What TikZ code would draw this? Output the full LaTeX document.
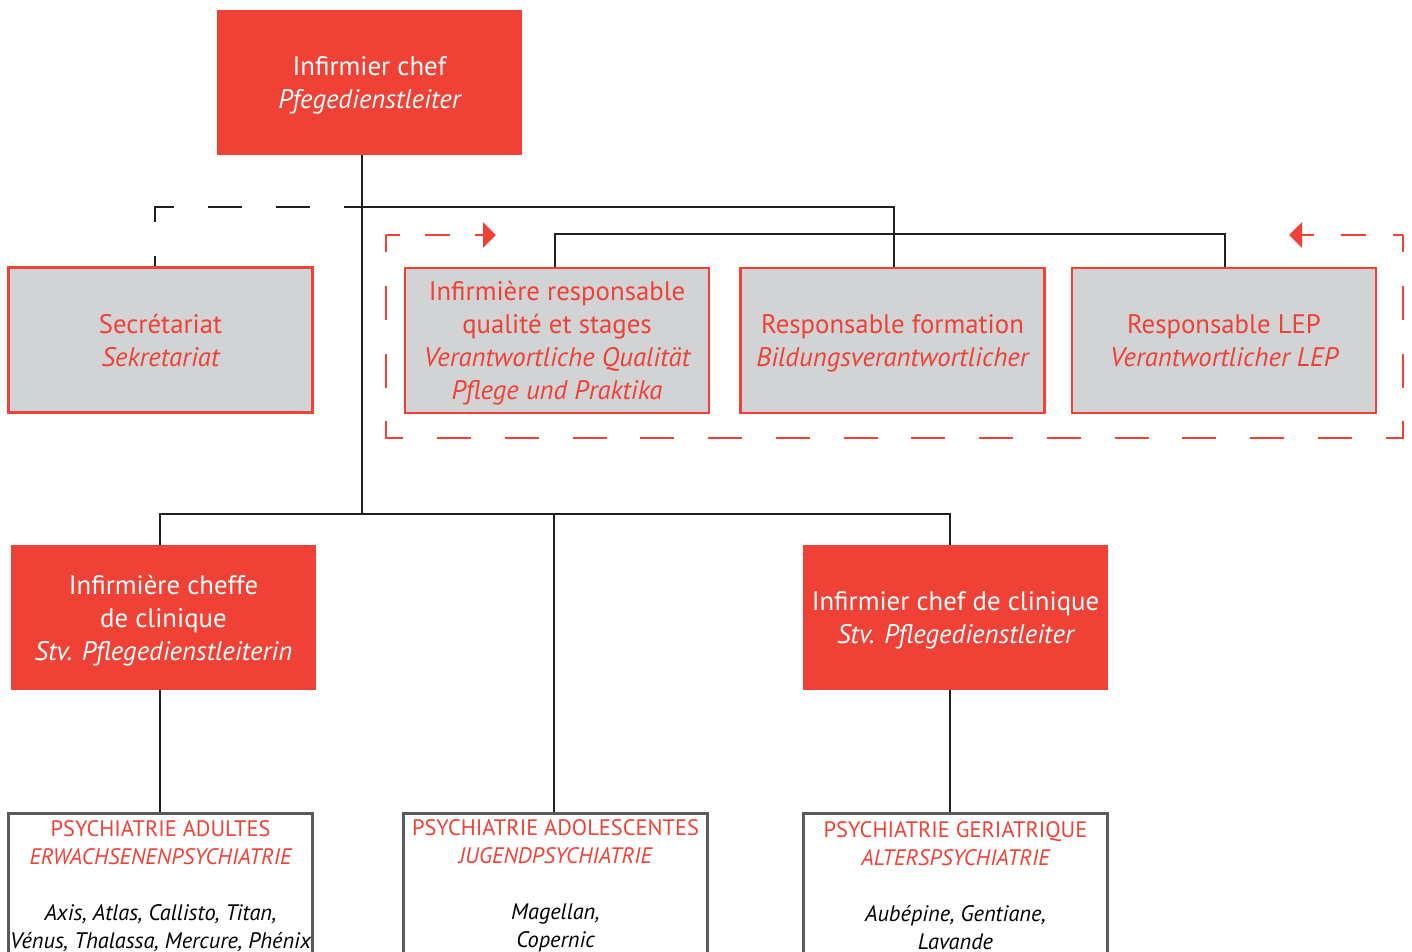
\documentclass[tikz,border=0pt]{standalone}
\usepackage{fontspec}
\setmainfont{PT Sans}
\usetikzlibrary{arrows.meta}

\definecolor{chefred}{HTML}{EF4136}
\definecolor{boxgrey}{HTML}{D1D3D4}
\definecolor{deptgrey}{HTML}{58595B}
\definecolor{linkblack}{HTML}{231F20}

\newcommand\orgbig{\fontsize{26.8}{33}\selectfont}
\newcommand\orgsmall{\fontsize{22.4}{28}\selectfont}

\tikzset{
  redbox/.style={rectangle, fill=chefred, text=white, inner sep=0pt,
    minimum width=305pt, minimum height=145pt, align=center, font=\orgbig,
    text depth=-9pt},
  greybox/.style={rectangle, draw=chefred, line width=2.5pt, fill=boxgrey,
    text=chefred, inner sep=0pt, minimum width=304pt, minimum height=145pt,
    align=center, font=\orgbig, text depth=-8pt},
  deptbox/.style={rectangle, draw=deptgrey, line width=2.5pt, fill=white,
    inner sep=0pt, minimum width=304pt, minimum height=220pt, anchor=north},
  depttext/.style={align=center, font=\orgsmall, inner sep=0pt},
  link/.style={draw=linkblack, line width=2.5pt},
  dashlink/.style={link, dash pattern=on 34pt off 34pt, dash phase=16pt},
  framedash/.style={draw=chefred, line width=2.5pt,
    dash pattern=on 34pt off 33.76pt, dash phase=17pt},
  frametip/.style={-{Triangle[length=13pt,width=25pt]}}
}

\begin{document}
\begin{tikzpicture}[x=1pt,y=-1pt]
  \path[use as bounding box, clip] (0,0) rectangle (1412,952);

  \coordinate (hub) at (362,207);
  \coordinate (staffbar) at (894,234);
  \coordinate (bus) at (362,514);

  \draw[link] (362,155) -- (bus);
  \draw[link] (hub) -| (staffbar) -- (894,267);
  \draw[dashlink] (hub) -| (155,267);
  \draw[link] (555,267) |- (staffbar) -| (1225,267);
  \draw[link] (160,545) |- (bus) -| (950,545);
  \draw[link] (bus -| 554,0) -- (554,812);
  \draw[link] (160,690) -- (160,812);
  \draw[link] (950,690) -- (950,812);

  \coordinate (frametl) at (386,235);
  \coordinate (framebl) at (386,438);
  \coordinate (framebr) at (1403,438);
  \coordinate (frametr) at (1403,235);
  \draw[framedash, frametip, dash pattern=on 25pt off 25pt, dash phase=11pt]
    (frametl) -- (496,235);
  \draw[framedash] (frametl) -- (framebl) -- (framebr) -- (frametr);
  \draw[framedash, frametip, dash pattern=on 25pt off 27pt, dash phase=15pt]
    (frametr) -- (1289,235);

  \node[redbox] (chef) at (369.5,82.5) {Infirmier chef\\\itshape Pfegedienstleiter};

  \node[greybox] (secr) at (160.5,340) {Secrétariat\\\itshape Sekretariat};
  \node[greybox] (qual) at (557,340.5) {Infirmière responsable\\qualité et stages\\
    {\itshape Verantwortliche Qualität}\\{\itshape Pflege und Praktika}};
  \node[greybox] (form) at (892.5,340.5) {Responsable formation\\\itshape Bildungsverantwortlicher};
  \node[greybox] (lep) at (1224,340.5) {Responsable LEP\\\itshape Verantwortlicher LEP};

  \node[redbox] (cheffe) at (163.5,617.5) {Infirmière cheffe\\de clinique\\
    {\itshape Stv. Pflegedienstleiterin}};
  \node[redbox] (chefclin) at (955.5,617.5) {Infirmier chef de clinique\\
    {\itshape Stv. Pflegedienstleiter}};

  \node[deptbox] (adults) at (160.5,812) {};
  \node[deptbox] (adol) at (555.5,812) {};
  \node[deptbox] (geria) at (955.5,812) {};

  \node[depttext] (adultstxt) at (160.5,886) {\textcolor{chefred}{PSYCHIATRIE ADULTES}\\
    \textcolor{chefred}{\itshape ERWACHSENENPSYCHIATRIE}\\[28pt]
    {\itshape Axis, Atlas, Callisto, Titan,}\\{\itshape Vénus, Thalassa, Mercure, Phénix}};
  \node[depttext] (adoltxt) at (555.5,886) {\textcolor{chefred}{PSYCHIATRIE ADOLESCENTES}\\
    \textcolor{chefred}{\itshape JUGENDPSYCHIATRIE}\\[28pt]
    {\itshape Magellan,}\\{\itshape Copernic}};
  \node[depttext] (geriatxt) at (955.5,886) {\textcolor{chefred}{PSYCHIATRIE GERIATRIQUE}\\
    \textcolor{chefred}{\itshape ALTERSPSYCHIATRIE}\\[28pt]
    {\itshape Aubépine, Gentiane,}\\{\itshape Lavande}};
\end{tikzpicture}
\end{document}
